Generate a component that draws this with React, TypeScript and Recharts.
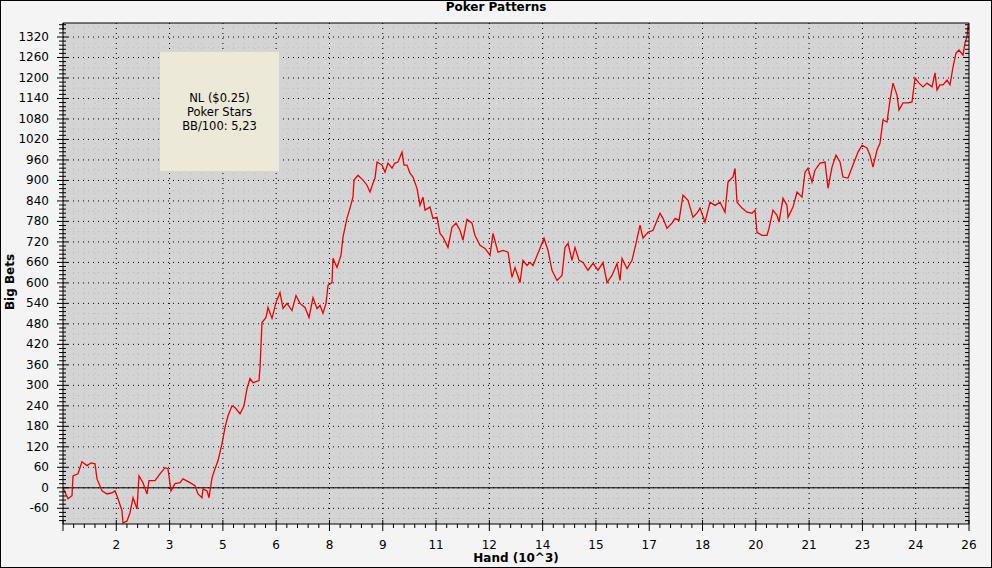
import React from 'react';
import { LineChart, Line, XAxis, YAxis, CartesianGrid, ReferenceLine } from 'recharts';

// Hands played (x) and cumulative big bets (y)
const hands = [
  0, 143, 258, 287, 430, 545, 689, 804, 918, 976, 1119, 1263, 1406, 1492, 1578, 1693, 1722, 1837, 1923, 2009,
  2124, 2181, 2296, 2411, 2468, 2640, 2784, 2927, 3013, 3099, 3214, 3358, 3444, 3645, 3788, 3874, 3989, 4018, 4133, 4190,
  4276, 4362, 4448, 4563, 4649, 4735, 4850, 4936, 5080, 5194, 5280, 5367, 5453, 5625, 5654, 5711, 5826, 5883, 5998, 6113,
  6227, 6314, 6428, 6572, 6687, 6801, 6945, 7060, 7175, 7289, 7375, 7461, 7548, 7605, 7720, 7748, 7863, 7978, 8035, 8150,
  8236, 8322, 8351, 8466, 8609, 8724, 8810, 8896, 8954, 9011, 9155, 9241, 9327, 9442, 9528, 9614, 9729, 9786, 9872, 9958,
  10044, 10159, 10245, 10331, 10389, 10532, 10618, 10733, 10819, 10905, 11049, 11163, 11278, 11393, 11479, 11594, 11737, 11824, 11967, 12111,
  12254, 12340, 12484, 12627, 12771, 12885, 12972, 13115, 13201, 13316, 13402, 13488, 13632, 13804, 13919, 14033, 14177, 14320, 14406, 14493,
  14607, 14693, 14808, 14923, 15066, 15210, 15353, 15497, 15612, 15755, 15899, 15985, 16042, 16186, 16329, 16444, 16559, 16645, 16788, 16932,
  17047, 17133, 17219, 17334, 17477, 17563, 17678, 17793, 17936, 18080, 18194, 18281, 18424, 18568, 18711, 18855, 18998, 19084, 19228, 19285,
  19343, 19486, 19630, 19773, 19859, 19916, 20060, 20203, 20261, 20375, 20490, 20548, 20663, 20777, 20806, 20950, 21064, 21208, 21294, 21380,
  21495, 21581, 21724, 21868, 21954, 22069, 22184, 22298, 22384, 22528, 22671, 22815, 22930, 23073, 23159, 23245, 23360, 23446, 23532, 23647,
  23733, 23819, 23934, 23991, 24106, 24250, 24365, 24451, 24566, 24681, 24795, 24939, 25025, 25082, 25168, 25254, 25369, 25455, 25541, 25627,
  25713, 25828, 25885, 25942, 25971, 26000,
];

const bigBets = [
  0, -32, -23, 35, 41, 76, 65, 73, 70, 26, -9, -18, -15, -9, -32, -67, -103, -97, -73, -29,
  -62, 35, 15, -18, 21, 21, 41, 59, 56, -9, 12, 15, 26, 15, 6, -18, -29, -3, -9, -29,
  29, 56, 79, 129, 176, 211, 240, 235, 217, 240, 290, 320, 308, 314, 352, 484, 499, 528, 496, 543,
  572, 525, 540, 519, 563, 540, 528, 499, 557, 525, 534, 511, 540, 593, 601, 672, 645, 681, 734, 789,
  819, 851, 901, 915, 901, 886, 866, 892, 907, 954, 945, 924, 951, 936, 951, 954, 983, 945, 945, 921,
  910, 877, 827, 851, 813, 822, 789, 792, 745, 734, 704, 763, 775, 754, 725, 786, 775, 739, 710, 701,
  681, 745, 690, 695, 690, 616, 645, 601, 666, 651, 660, 651, 687, 731, 695, 637, 607, 622, 704, 716,
  666, 704, 666, 660, 637, 657, 637, 660, 601, 622, 657, 607, 672, 642, 666, 716, 769, 731, 748, 754,
  783, 804, 789, 760, 775, 789, 783, 857, 842, 792, 804, 819, 778, 836, 827, 836, 807, 895, 910, 935,
  836, 819, 807, 804, 813, 748, 739, 739, 760, 813, 798, 778, 848, 827, 792, 822, 866, 851, 924, 936,
  895, 930, 951, 954, 877, 939, 974, 954, 910, 907, 945, 983, 1003, 995, 974, 939, 989, 1009, 1077, 1071,
  1135, 1185, 1150, 1106, 1127, 1127, 1130, 1200, 1185, 1174, 1185, 1174, 1215, 1165, 1180, 1180, 1194, 1180, 1232, 1273,
  1282, 1267, 1303, 1320, 1355, 1340,
];

const xTickLabels = ['2', '3', '5', '6', '8', '9', '11', '12', '14', '15', '17', '18', '20', '21', '23', '24', '26'];
const yTickLabels = [-60, 0, 60, 120, 180, 240, 300, 360, 420, 480, 540, 600, 660, 720, 780, 840, 900, 960, 1020, 1080, 1140, 1200, 1260, 1320];

const X_MAX = 26000;
const Y_DOMAIN: [number, number] = [-106, 1361];
const xMajorCount = xTickLabels.length; // 17 intervals
const xMinorTicks = Array.from({ length: xMajorCount * 5 + 1 }, (_, k) => (k * X_MAX) / (xMajorCount * 5));
const xMajorTicks = Array.from({ length: xMajorCount - 1 }, (_, k) => ((k + 1) * X_MAX) / xMajorCount);
const yMinorTicks = Array.from({ length: 122 }, (_, k) => -96 + k * 12);
const yHalfTicks = yTickLabels.map((v) => v + 30).filter((v) => v < Y_DOMAIN[1]).concat([-90]);

const data = hands.map((h, i) => ({ h, v: bigBets[i] }));

const FONT = '"DejaVu Sans", Verdana, sans-serif';

const xIndex = (value: number) => Math.round((value * xMajorCount * 5) / X_MAX);

const BottomTick = (props: any) => {
  const { x, y, payload } = props;
  const k = xIndex(payload.value);
  const major = k % 5 === 0;
  const label = major && k > 0 ? xTickLabels[k / 5 - 1] : null;
  return (
    <g>
      <line x1={x} x2={x} y1={major ? y - 4 : y} y2={major ? y + 7 : y + 4} stroke="#000" />
      {label && (
        <text x={x} y={y + 21} textAnchor="middle" dominantBaseline="central" fontSize={12} fontFamily={FONT} fill="#000">
          {label}
        </text>
      )}
    </g>
  );
};

const TopTick = (props: any) => {
  const { x, y, payload } = props;
  const k = xIndex(payload.value);
  const major = k % 5 === 0;
  return <line x1={x} x2={x} y1={y} y2={major ? y + 7 : y + 4} stroke="#000" />;
};

const LeftTick = (props: any) => {
  const { x, y, payload } = props;
  const v = Math.round(payload.value);
  const major = v % 60 === 0;
  return (
    <g>
      <line x1={major ? x - 6 : x - 4} x2={major ? x + 5 : x + 3} y1={y} y2={y} stroke="#000" />
      {major && (
        <text x={x - 14} y={y} textAnchor="end" dominantBaseline="central" fontSize={12} fontFamily={FONT} fill="#000">
          {String(v)}
        </text>
      )}
    </g>
  );
};

const RightTick = (props: any) => {
  const { x, y, payload } = props;
  const v = Math.round(payload.value);
  const major = v % 60 === 0;
  return <line x1={major ? x - 6 : x - 4} x2={x} y1={y} y2={y} stroke="#000" />;
};

export default function App() {
  return (
    <div style={{ position: 'absolute', left: 0, top: 0, width: 992, height: 568, background: '#f4f4f4', fontFamily: FONT }}>
      <LineChart width={992} height={568} data={data} margin={{ top: 13, right: 13, bottom: 14, left: 0 }}>
        <CartesianGrid
          fill="#d4d4d4"
          horizontal={false}
          stroke="#bababa"
          strokeDasharray="1 4"
        />
        {yHalfTicks.map((v) => (
          <ReferenceLine key={'h' + v} y={v} stroke="#bababa" strokeDasharray="1 4" />
        ))}
        {yTickLabels.map((v) => (
          <ReferenceLine key={'y' + v} y={v} stroke="#000" strokeDasharray="1 4" />
        ))}
        {xMajorTicks.map((v) => (
          <ReferenceLine key={'x' + v} x={v} stroke="#000" strokeDasharray="1 4" />
        ))}
        <ReferenceLine y={0} stroke="#000" strokeWidth={1} />
        <XAxis
          dataKey="h"
          type="number"
          domain={[0, X_MAX]}
          allowDataOverflow
          ticks={xMinorTicks}
          interval={0}
          tick={<BottomTick />}
          tickLine={false}
          tickSize={0}
          tickMargin={0}
          axisLine={{ stroke: '#000' }}
          height={30}
        />
        <XAxis
          xAxisId="t"
          orientation="top"
          type="number"
          domain={[0, X_MAX]}
          allowDataOverflow
          ticks={xMinorTicks}
          interval={0}
          tick={<TopTick />}
          tickLine={false}
          tickSize={0}
          tickMargin={0}
          axisLine={{ stroke: '#000' }}
          height={10}
        />
        <YAxis
          type="number"
          domain={Y_DOMAIN}
          allowDataOverflow
          ticks={yMinorTicks}
          interval={0}
          tick={<LeftTick />}
          tickLine={false}
          tickSize={0}
          tickMargin={0}
          axisLine={{ stroke: '#000' }}
          width={63}
        />
        <YAxis
          yAxisId="r"
          orientation="right"
          type="number"
          domain={Y_DOMAIN}
          allowDataOverflow
          ticks={yMinorTicks}
          interval={0}
          tick={<RightTick />}
          tickLine={false}
          tickSize={0}
          tickMargin={0}
          axisLine={{ stroke: '#000' }}
          width={10}
        />
        <Line
          type="linear"
          dataKey="v"
          stroke="#ee0000"
          strokeWidth={1.3}
          dot={false}
          activeDot={false}
          isAnimationActive={false}
        />
      </LineChart>

      <div style={{ position: 'absolute', left: 0, top: 0, width: 992, height: 14, lineHeight: '14px', textAlign: 'center', fontWeight: 'bold', fontSize: 12 }}>
        Poker Patterns
      </div>
      <div style={{ position: 'absolute', left: 10, top: 282, transform: 'translate(-50%, -50%) rotate(-90deg)', whiteSpace: 'nowrap', fontWeight: 'bold', fontSize: 12, lineHeight: 1 }}>
        Big Bets
      </div>
      <div style={{ position: 'absolute', left: 516, top: 558, transform: 'translate(-50%, -50%)', whiteSpace: 'nowrap', fontWeight: 'bold', fontSize: 12, lineHeight: 1 }}>
        Hand (10^3)
      </div>
      <div style={{ position: 'absolute', left: 160, top: 52, width: 119, height: 119, background: '#ece9d8', display: 'flex', flexDirection: 'column', justifyContent: 'center', alignItems: 'center', fontSize: 11.5, lineHeight: '14px', color: '#000' }}>
        <div>NL ($0.25)</div>
        <div>Poker Stars</div>
        <div>BB/100: 5,23</div>
      </div>
      <div style={{ position: 'absolute', left: 0, top: 0, width: 992, height: 568, border: '1px solid #000', boxSizing: 'border-box', pointerEvents: 'none' }} />
    </div>
  );
}
